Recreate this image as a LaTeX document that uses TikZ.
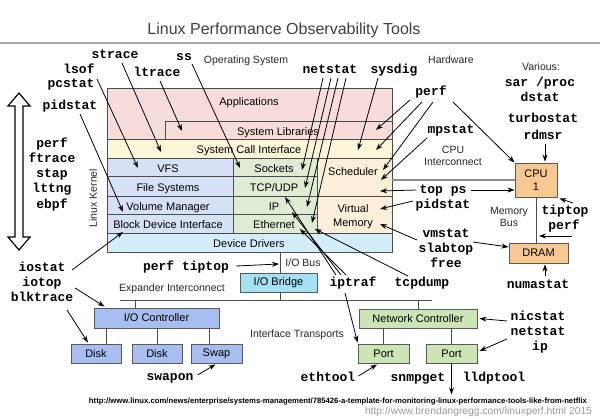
\documentclass[tikz,border=0pt]{standalone}
\usepackage{fontspec}
\usepackage{graphicx}
\setmainfont{Liberation Sans}
\newfontfamily\monofnt{Liberation Mono}
\usetikzlibrary{arrows.meta,calc}
\definecolor{apps}{HTML}{F8DCDC}
\definecolor{scall}{HTML}{FCF6D8}
\definecolor{kblue}{HTML}{D5E1F7}
\definecolor{kgreen}{HTML}{DFEBD3}
\definecolor{kpeach}{HTML}{FCEFDA}
\definecolor{kdrv}{HTML}{D3EEFA}
\definecolor{bridgec}{HTML}{A6E0F4}
\definecolor{iocc}{HTML}{A8BEF1}
\definecolor{netcc}{HTML}{CCE5B7}
\definecolor{cpuc}{HTML}{F8C892}
\begin{document}
\begin{tikzpicture}[x=1pt,y=-1pt,
 tool/.style={font=\monofnt\bfseries\fontsize{13}{15}\selectfont, inner sep=0pt, text height=7.3pt, text depth=0pt},
 lbl/.style={font=\fontsize{11}{13}\selectfont, inner sep=0pt, text height=7.9pt, text depth=0pt},
 note/.style={font=\fontsize{10.5}{12}\selectfont, inner sep=0pt, text height=7.5pt, text depth=0pt, text=black!85},
 layer/.style={draw=black!70, line width=1pt},
 hwbox/.style={draw=black!65, line width=0.9pt, inner sep=0pt, font=\fontsize{11}{13}\selectfont, align=center},
 arr/.style={-{Stealth[length=7pt,width=5pt]}, line width=0.8pt},
 wire/.style={draw=black!70, line width=1pt}]
\useasboundingbox (0,0) rectangle (600,419);
\fill[white] (0,0) rectangle (600,419);

% title
\node[font=\fontsize{16}{18}\selectfont, text=black!75, inner sep=0pt, text height=11.5pt, text depth=0pt] (title) at (284,29) {Linux Performance Observability Tools};
\draw[black!35, line width=1.5pt] (0,43) -- (600,43);

% kernel layers
\draw[layer, fill=apps] (107,89) rectangle (392,140);
\draw[layer, fill=apps] (165,122) rectangle (392,140);
\draw[layer, fill=scall] (107,140) rectangle (392,159);
\draw[layer, fill=kblue] (107,159) rectangle (233,177);
\draw[layer, fill=kblue] (107,177) rectangle (233,197);
\draw[layer, fill=kblue] (107,197) rectangle (233,215);
\draw[layer, fill=kblue] (107,215) rectangle (233,234);
\draw[layer, fill=kgreen] (233,159) rectangle (317,177);
\draw[layer, fill=kgreen] (233,177) rectangle (317,197);
\draw[layer, fill=kgreen] (233,197) rectangle (317,215);
\draw[layer, fill=kgreen] (233,215) rectangle (317,234);
\draw[layer, fill=kpeach] (317,159) rectangle (392,197);
\draw[layer, fill=kpeach] (317,197) rectangle (392,234);
\draw[layer, fill=kdrv] (107,234) rectangle (392,253);

\node[lbl] (l-apps) at (249,102) {Applications};
\node[lbl] (l-lib) at (278,132) {System Libraries};
\node[lbl] (l-sci) at (249,150) {System Call Interface};
\node[lbl] (l-vfs) at (168,169) {VFS};
\node[lbl] (l-fs) at (168,188) {File Systems};
\node[lbl] (l-vol) at (168,207) {Volume Manager};
\node[lbl] (l-bdi) at (168,225) {Block Device Interface};
\node[lbl] (l-sock) at (274,169) {Sockets};
\node[lbl] (l-tcp) at (274,188) {TCP/UDP};
\node[lbl] (l-ip) at (274,207) {IP};
\node[lbl] (l-eth) at (274,225) {Ethernet};
\node[lbl] (l-sched) at (353,172) {Scheduler};
\node[lbl] (l-virt) at (353,209) {Virtual};
\node[lbl] (l-mem) at (353,223) {Memory};
\node[lbl] (l-dd) at (249,244) {Device Drivers};
\node[note, rotate=90] (l-kern) at (93,198) {Linux Kernel};

% left double arrow
\draw[black, line width=1.2pt, fill=white] (19,93) -- (30,106) -- (23,106) -- (23,237) -- (30,237) -- (19,250) -- (8,237) -- (15,237) -- (15,106) -- (8,106) -- cycle;

% notes
\node[note] (n-os) at (246,60) {Operating System};
\node[note] (n-hw) at (451,60) {Hardware};
\node[note] (n-var) at (541,67) {Various:};
\node[note] (n-cpu1) at (453,150) {CPU};
\node[note] (n-cpu2) at (453,162) {Interconnect};
\node[note] (n-mb1) at (509,211) {Memory};
\node[note] (n-mb2) at (509,223) {Bus};
\node[note] (n-iobus) at (303,263) {I/O Bus};
\node[note] (n-exp) at (172,288) {Expander Interconnect};
\node[note] (n-it) at (297,334) {Interface Transports};

% tools
\node[tool] (strace) at (115,55) {strace};
\node[tool] (lsof) at (79,70) {lsof};
\node[tool] (pcstat) at (71,84) {pcstat};
\node[tool] (ltrace) at (157,73) {ltrace};
\node[tool] (ss) at (184,57) {ss};
\node[tool] (pidstat) at (70,106) {pidstat};
\node[tool] (netstat) at (330,70) {netstat};
\node[tool] (sysdig) at (394,70) {sysdig};
\node[tool] (perf) at (431,92) {perf};
\node[tool] (sar) at (540,83) {sar /proc};
\node[tool] (dstat) at (540,98) {dstat};
\node[tool] (turbo) at (543,119) {turbostat};
\node[tool] (rdmsr) at (543,136) {rdmsr};
\node[tool] (mpstat) at (451,130) {mpstat};
\node[tool] (topps) at (443,190) {top ps};
\node[tool] (pidstat2) at (443,205) {pidstat};
\node[tool] (tiptop) at (565,211) {tiptop};
\node[tool] (perf2) at (564,226) {perf};
\node[tool] (vmstat) at (446,234) {vmstat};
\node[tool] (slabtop) at (446,249) {slabtop};
\node[tool] (free) at (446,264) {free};
\node[tool] (numastat) at (538,285) {numastat};
\node[tool] (t-perf) at (52,144) {perf};
\node[tool] (t-ftrace) at (52,159) {ftrace};
\node[tool] (t-stap) at (52,174) {stap};
\node[tool] (t-lttng) at (52,189) {lttng};
\node[tool] (t-ebpf) at (52,205) {ebpf};
\node[tool] (iostat) at (42,268) {iostat};
\node[tool] (iotop) at (42,283) {iotop};
\node[tool] (blktrace) at (42,298) {blktrace};
\node[tool] (perftiptop) at (186,267) {perf tiptop};
\node[tool] (iptraf) at (353,283) {iptraf};
\node[tool] (tcpdump) at (422,283) {tcpdump};
\node[tool] (nicstat) at (538,317) {nicstat};
\node[tool] (netstat2) at (538,332) {netstat};
\node[tool] (ip) at (540,347) {ip};
\node[tool] (swapon) at (170,377) {swapon};
\node[tool] (ethtool) at (328,378) {ethtool};
\node[tool] (snmpget) at (418,378) {snmpget};
\node[tool] (lldptool) at (494,378) {lldptool};

% hardware boxes
\node[hwbox, fill=cpuc, minimum width=42pt, minimum height=34pt] (cpu) at (536,180) {CPU\\1};
\node[hwbox, fill=cpuc, minimum width=59pt, minimum height=20pt] (dram) at (538.5,253) {DRAM};
\node[hwbox, fill=bridgec, minimum width=77pt, minimum height=19pt] (bridge) at (278.5,282.5) {I/O Bridge};
\node[hwbox, fill=iocc, minimum width=125pt, minimum height=20pt] (ioc) at (156.5,318) {I/O Controller};
\node[hwbox, fill=iocc, minimum width=50pt, minimum height=19pt] (disk1) at (96,353.5) {Disk};
\node[hwbox, fill=iocc, minimum width=50pt, minimum height=19pt] (disk2) at (157,353.5) {Disk};
\node[hwbox, fill=iocc, minimum width=51pt, minimum height=19pt] (swap) at (216.5,353.5) {Swap};
\node[hwbox, fill=netcc, minimum width=118pt, minimum height=19pt] (netc) at (418,318.5) {Network Controller};
\node[hwbox, fill=netcc, minimum width=51pt, minimum height=19pt] (port1) at (383.5,353.5) {Port};
\node[hwbox, fill=netcc, minimum width=51pt, minimum height=19pt] (port2) at (451.5,353.5) {Port};

% buses and wires
\coordinate (kright) at (392,180);
\draw[black!45, line width=1.5pt] (kright) -- (cpu.west);
\draw[wire] (cpu.south) -- (cpu.south |- dram.north);
\coordinate (iobus-top) at (280,253);
\coordinate (expl) at (120,301);
\coordinate (expr) at (432,301);
\draw[wire] (iobus-top) -- (iobus-top |- bridge.north);
\draw[wire] (iobus-top |- bridge.south) -- (iobus-top |- expl);
\draw[wire] (expl) -- (expr);
\coordinate (ioc-tap) at (135,301);
\draw[wire] (ioc-tap) -- (ioc-tap |- ioc.north);
\draw[wire] (netc.north |- expl) -- (netc.north);
\draw[wire] ([xshift=10pt]disk1.north |- ioc.south) -- ([xshift=10pt]disk1.north);
\draw[wire] (disk2.north |- ioc.south) -- (disk2.north);
\draw[wire] ([xshift=-7.5pt]swap.north |- ioc.south) -- ([xshift=-7.5pt]swap.north);
\draw[wire] (port1.north |- netc.south) -- (port1.north);
\draw[wire] (port2.north |- netc.south) -- (port2.north);

% arrow targets
\coordinate (h-sci) at (161,152);
\coordinate (h-vfs) at (138,168);
\coordinate (h-lib) at (182,131);
\coordinate (h-sock) at (240,168);
\coordinate (h-vol) at (123,212);
\coordinate (h-ns1) at (302,170);
\coordinate (h-ns2) at (305,188);
\coordinate (h-ns3) at (307,207);
\coordinate (h-ns4) at (312,223);
\coordinate (h-sys) at (358,150);
\coordinate (h-p1) at (376,130);
\coordinate (h-p2) at (376,150);
\coordinate (h-p3) at (383,170);
\coordinate (h-mp) at (381,180);
\coordinate (h-tp) at (380,191);
\coordinate (h-pid2) at (380,209);
\coordinate (h-vms) at (380,224);
\coordinate (h-bdi) at (123,232);
\coordinate (h-iob) at (279,264);
\coordinate (h-ipt1) at (285,197);
\coordinate (h-ipt2) at (292,212);
\coordinate (h-ipt3) at (300,229);
\coordinate (h-tcpd) at (315,229);
\coordinate (h-mbus) at (539,236);
\coordinate (lld) at ($(port2.south)+(0,31)$);

% arrows
\draw[arr] ($(strace)+(7,8)$) -- (h-sci);
\draw[arr] ($(pcstat)+(26,-5)$) -- (h-vfs);
\draw[arr] ($(ltrace)+(3,8)$) -- (h-lib);
\draw[arr] ($(ss)+(8,7)$) -- (h-sock);
\draw[arr] ($(pidstat)+(10,8)$) -- (h-vol);
\draw[arr] ($(netstat)+(-7,8)$) -- (h-ns1);
\draw[arr] ($(netstat)+(1,8)$) -- (h-ns2);
\draw[arr] ($(netstat)+(8,8)$) -- (h-ns3);
\draw[arr] ($(netstat)+(16,8)$) -- (h-ns4);
\draw[arr] ($(sysdig)+(-16,8)$) -- (h-sys);
\draw[arr] ($(perf)+(-21,8)$) -- (h-p1);
\draw[arr] ($(perf)+(-9,10)$) -- (h-p2);
\draw[arr] ($(perf)+(2,10)$) -- (h-p3);
\draw[arr] ($(perf)+(22,10)$) -- (cpu.north west);
\draw[arr] ($(mpstat)+(-24,8)$) -- (h-mp);
\draw[arr] ([xshift=-3pt]topps.west) -- (h-tp);
\draw[arr] ([xshift=4pt]topps.east) -- (cpu.west |- topps);
\draw[arr] ($(pidstat2)+(-30,-4)$) -- (h-pid2);
\draw[arr] ($(vmstat)+(-29,6)$) -- (h-vms);
\draw[arr] ($(vmstat)+(27,8)$) -- ([yshift=6pt]dram.west);
\draw[arr] ($(rdmsr)+(2,8)$) -- ($(cpu.north)+(9,-1)$);
\draw[arr] ($(tiptop)+(8,-8)$) -- ($(cpu.south east)+(2,1)$);
\draw[arr] ($(perf2)+(8,10)$) -- (h-mbus);
\draw[arr] ($(numastat)+(7,-9)$) -- ($(dram.south)+(6.5,1)$);
\draw[arr] ($(iostat)+(30,2)$) -- (h-bdi);
\draw[arr] ($(iotop)+(33,5)$) -- ($(ioc.north west)+(11,-1)$);
\draw[arr] ($(blktrace)+(25,12)$) -- ($(disk1.north)+(-8,-1)$);
\draw[arr] ($(perftiptop.east)+(7,-1)$) -- (h-iob);
\draw[arr] ($(swapon.east)+(4,-2)$) -- ($(swap.south)+(-1,1)$);
\draw[arr] ($(iptraf)+(-17,-8)$) -- (h-ipt1);
\draw[arr] ($(iptraf)+(-12,-8)$) -- (h-ipt2);
\draw[arr] ($(iptraf)+(-7,-8)$) -- (h-ipt3);
\draw[arr] ($(iptraf)+(-8,10)$) -- ($(port1.north west)+(0,-1)$);
\draw[arr] ($(tcpdump)+(-14,-7)$) -- (h-tcpd);
\draw[arr] ($(nicstat)+(-31,4)$) -- ($(netc.east)+(2,0)$);
\draw[arr] ($(netstat2)+(-31,7)$) -- ($(port2.east)+(2,-2.5)$);
\draw[arr] ($(ethtool.east)+(3,-2)$) -- ($(port1.south)+(-6.5,1)$);
\draw[arr] (port2.south) -- (lld);

% sources
\node[inner sep=0pt] (url1) at (338,402) {\resizebox{498pt}{!}{\fontsize{7}{8}\selectfont\bfseries http://www.linux.com/news/enterprise/systems-management/785426-a-template-for-monitoring-linux-performance-tools-like-from-netflix}};
\node[inner sep=0pt, text=black!40] (url2) at (478.5,412) {\resizebox{227pt}{!}{\fontsize{9}{10}\selectfont http://www.brendangregg.com/linuxperf.html 2015}};
\end{tikzpicture}
\end{document}
